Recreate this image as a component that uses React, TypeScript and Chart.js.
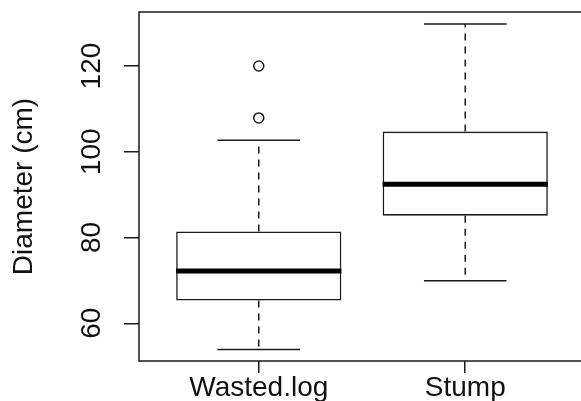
import React, { useEffect, useRef } from 'react';
import { Chart, registerables } from 'chart.js';

Chart.register(...registerables);

// ---- data ----
const categories = ['Wasted.log', 'Stump'];
const lowerWhisker = [53.9, 69.9];
const q1 = [65.3, 85.1];
const median = [72.2, 92.4];
const q3 = [81.4, 104.7];
const upperWhisker = [102.7, 129.8];
const outlierGroup = [1, 1];
const outlierValues = [107.9, 120];
const yTickValues = [60, 80, 100, 120];
const yTitle = 'Diameter (cm)';
const yRange = [51.2, 132.6];
const xRange = [0.42, 2.58];

const FONT = "'Liberation Sans', Arial, Helvetica, sans-serif";
const INK = '#1a1a1a';

const boxParts = {
  id: 'boxParts',
  afterDatasetsDraw(chart: any) {
    const { ctx, chartArea } = chart;
    const xs = chart.scales.x;
    const ys = chart.scales.y;
    const py = (v: number) => ys.getPixelForValue(v);
    const halfBox = Math.abs(xs.getPixelForValue(1.4) - xs.getPixelForValue(1));
    const halfCap = Math.abs(xs.getPixelForValue(1.2) - xs.getPixelForValue(1));
    const line = (x1: number, y1: number, x2: number, y2: number) => {
      ctx.beginPath();
      ctx.moveTo(x1, y1);
      ctx.lineTo(x2, y2);
      ctx.stroke();
    };
    ctx.save();
    ctx.lineCap = 'butt';
    categories.forEach((_, i) => {
      const cx = xs.getPixelForValue(i + 1);
      ctx.strokeStyle = INK;
      ctx.lineWidth = 1.5;
      ctx.setLineDash([7, 6]);
      line(cx, py(q3[i]), cx, py(upperWhisker[i]));
      line(cx, py(q1[i]), cx, py(lowerWhisker[i]));
      ctx.setLineDash([]);
      line(cx - halfCap, py(upperWhisker[i]), cx + halfCap, py(upperWhisker[i]));
      line(cx - halfCap, py(lowerWhisker[i]), cx + halfCap, py(lowerWhisker[i]));
      ctx.strokeStyle = '#000';
      ctx.lineWidth = 5;
      line(cx - halfBox, py(median[i]), cx + halfBox, py(median[i]));
    });
    ctx.strokeStyle = INK;
    ctx.lineWidth = 1.5;
    ctx.strokeRect(chartArea.left, chartArea.top, chartArea.right - chartArea.left, chartArea.bottom - chartArea.top);
    ctx.restore();
  },
};

export default function App() {
  const ref = useRef<HTMLCanvasElement | null>(null);

  useEffect(() => {
    document.body.style.margin = '0';
    document.body.style.overflow = 'hidden';
    document.documentElement.style.overflow = 'hidden';
    const canvas = ref.current;
    if (!canvas) return;
    const chart = new Chart(canvas, {
      type: 'bar',
      data: {
        datasets: [
          {
            type: 'bar',
            data: categories.map((_, i) => ({ x: i + 1, y: [q1[i], q3[i]] })) as any,
            backgroundColor: '#ffffff',
            borderColor: INK,
            borderWidth: 1.6,
            borderSkipped: false,
            categoryPercentage: 1,
            barPercentage: 0.8,
          } as any,
          {
            type: 'scatter',
            data: outlierValues.map((v, k) => ({ x: outlierGroup[k], y: v })),
            pointRadius: 5,
            pointBorderWidth: 1.5,
            borderColor: INK,
            backgroundColor: 'rgba(0,0,0,0)',
            showLine: false,
          } as any,
        ],
      },
      options: {
        responsive: false,
        devicePixelRatio: 1,
        animation: false,
        layout: { padding: { left: 0, top: 12, right: 15, bottom: 0 } },
        plugins: { legend: { display: false }, tooltip: { enabled: false } },
        scales: {
          x: {
            type: 'linear',
            offset: false,
            min: xRange[0],
            max: xRange[1],
            afterBuildTicks: (s: any) => {
              s.ticks = categories.map((_, i) => ({ value: i + 1 }));
            },
            afterFit: (s: any) => {
              s.height = 59;
              s.paddingLeft = 0;
              s.paddingRight = 0;
            },
            grid: {
              display: true,
              offset: false,
              drawOnChartArea: false,
              drawTicks: true,
              tickLength: 12,
              color: INK,
              lineWidth: 1.5,
            },
            border: { display: false },
            ticks: {
              autoSkip: false,
              minRotation: 0,
              maxRotation: 0,
              padding: 1,
              color: '#111',
              font: { family: FONT, size: 28, lineHeight: 1 },
              callback: (v: any) => categories[Math.round(Number(v)) - 1] ?? '',
            },
          },
          y: {
            type: 'linear',
            min: yRange[0],
            max: yRange[1],
            afterBuildTicks: (s: any) => {
              s.ticks = yTickValues.map((v) => ({ value: v }));
            },
            afterFit: (s: any) => {
              s.width = 139;
              s.paddingTop = 0;
              s.paddingBottom = 0;
            },
            grid: {
              display: true,
              drawOnChartArea: false,
              drawTicks: true,
              tickLength: 15,
              color: INK,
              lineWidth: 1.5,
            },
            border: { display: false },
            ticks: {
              minRotation: 90,
              maxRotation: 90,
              crossAlign: 'center',
              padding: 8,
              color: '#111',
              font: { family: FONT, size: 28 },
              callback: (v: any) => String(v),
            },
            title: {
              display: true,
              text: yTitle,
              color: '#111',
              padding: { top: 7.5, bottom: 0 },
              font: { family: FONT, size: 28 },
            },
          },
        },
      },
      plugins: [boxParts],
    } as any);
    return () => chart.destroy();
  }, []);

  return (
    <div style={{ position: 'fixed', left: 0, top: 0, width: 600, height: 420, background: '#fff' }}>
      <canvas ref={ref} width={600} height={420} style={{ display: 'block', width: 600, height: 420 }} />
    </div>
  );
}
